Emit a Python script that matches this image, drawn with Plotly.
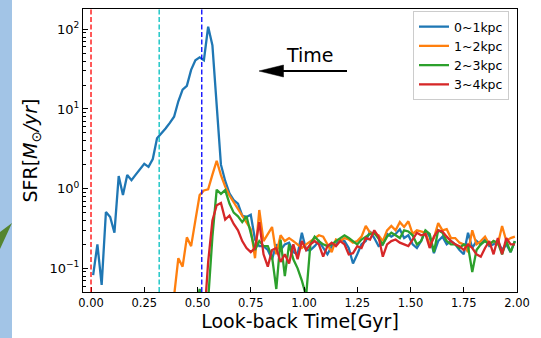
import plotly.graph_objects as go

# ---------------- data ----------------
time_gyr = [round(0.01 + 0.02 * i, 2) for i in range(100)]

sfr_0_1kpc = [
    0.082, 0.20, 0.062, 0.51, 0.44, 0.28, 1.44, 0.83, 1.48, 1.28,
    1.5, 1.75, 2.05, 1.88, 2.35, 4.3, 4.9, 5.7, 6.7, 8.0,
    12.5, 17.5, 19.5, 31, 41, 44.5, 41, 108, 63, 10,
    2.0, 1.25, 0.87, 0.72, 0.65, 0.46, 0.44, 0.47, 0.23, 0.19,
    0.19, 0.17, 0.13, 0.2, 0.17, 0.2,
    0.21, 0.16, 0.15, 0.28, 0.17, 0.17, 0.19, 0.22, 0.18, 0.15,
    0.19, 0.2, 0.23, 0.22, 0.18, 0.115, 0.15, 0.2, 0.22, 0.29,
    0.24, 0.19, 0.2, 0.27, 0.25, 0.27, 0.31, 0.24, 0.26, 0.2,
    0.18, 0.22, 0.3, 0.25, 0.155, 0.22, 0.25, 0.2, 0.22, 0.2,
    0.17, 0.15, 0.28, 0.18, 0.22, 0.2, 0.23, 0.19, 0.2, 0.22,
    0.17, 0.2, 0.16, 0.22,
]

sfr_1_2kpc = [None] * 18 + [
    0.02, 0.045, 0.134, 0.105, 0.245, 0.19, 0.40, 0.83, 0.95, 0.98,
    1.5, 2.24, 1.48, 1.06, 0.82, 0.68, 0.55, 0.45, 0.38, 0.31,
    0.134, 0.54, 0.22, 0.27, 0.33, 0.15,
    0.26, 0.22, 0.24, 0.22, 0.2, 0.18, 0.2, 0.22, 0.24, 0.26,
    0.25, 0.2, 0.16, 0.23, 0.22, 0.24, 0.23, 0.21, 0.22, 0.25,
    0.34, 0.28, 0.27, 0.26, 0.22, 0.3, 0.34, 0.3, 0.38, 0.33,
    0.39, 0.27, 0.3, 0.29, 0.28, 0.2, 0.24, 0.37, 0.3, 0.31,
    0.24, 0.24, 0.21, 0.2, 0.16, 0.3, 0.2, 0.22, 0.25, 0.2,
    0.22, 0.2, 0.34, 0.22, 0.24, 0.25,
]

sfr_2_3kpc = [None] * 24 + [
    0.03, 0.055, 0.03, 0.04, 0.25, 0.97, 0.86, 0.96, 0.65, 0.5,
    0.45, 0.38, 0.45, 0.27, 0.17, 0.22, 0.19, 0.19, 0.14, 0.055,
    0.23, 0.08,
    0.2, 0.13, 0.1, 0.07, 0.045, 0.2, 0.25, 0.22, 0.2, 0.19,
    0.2, 0.22, 0.24, 0.26, 0.24, 0.22, 0.2, 0.23, 0.25, 0.27,
    0.28, 0.24, 0.2, 0.25, 0.28, 0.26, 0.24, 0.3, 0.29, 0.26,
    0.2, 0.22, 0.3, 0.27, 0.16, 0.3, 0.28, 0.22, 0.2, 0.2,
    0.18, 0.2, 0.19, 0.09, 0.17, 0.2, 0.22, 0.2, 0.22, 0.21,
    0.15, 0.22, 0.16, 0.22,
]

sfr_3_4kpc = [None] * 26 + [
    0.02, 0.12, 0.4, 0.62, 0.66, 0.41, 0.46, 0.36, 0.3, 0.22,
    0.18, 0.16, 0.18, 0.38, 0.15, 0.105, 0.17, 0.18, 0.12, 0.15,
    0.115, 0.2, 0.13, 0.22, 0.17, 0.2, 0.22, 0.2, 0.14, 0.19,
    0.21, 0.19, 0.22, 0.2, 0.15, 0.155, 0.19, 0.18, 0.24, 0.23,
    0.3, 0.25, 0.14, 0.2, 0.22, 0.23, 0.21, 0.2, 0.19, 0.23,
    0.28, 0.26, 0.27, 0.18, 0.25, 0.3, 0.29, 0.25, 0.22, 0.2,
    0.19, 0.17, 0.2, 0.18, 0.15, 0.14, 0.18, 0.22, 0.15, 0.24,
    0.15, 0.24, 0.2, 0.2,
]

series_names = ["0~1kpc", "1~2kpc", "2~3kpc", "3~4kpc"]
series_colors = ["#1f77b4", "#ff7f0e", "#2ca02c", "#d62728"]
series_values = [sfr_0_1kpc, sfr_1_2kpc, sfr_2_3kpc, sfr_3_4kpc]

vline_times = [0.0, 0.32, 0.52]
vline_colors = ["#ff0000", "#00bfbf", "#0000ff"]

x_tick_vals = [0, 0.25, 0.5, 0.75, 1.0, 1.25, 1.5, 1.75, 2.0]
y_tick_vals = [0.1, 1, 10, 100]
y_tick_text = ["10<sup>\u22121</sup>", "10<sup>0</sup>", "10<sup>1</sup>", "10<sup>2</sup>"]
y_minor_vals = [m * 10 ** e for e in range(-2, 3) for m in range(2, 10)]

# ---------------- figure ----------------
W, H = 541, 338
L, R, T, B = 83, 24, 9, 46
PW, PH = W - L - R, H - T - B


def px2paper_x(px):
    return (px - L) / PW


def px2paper_y(py):
    return (H - B - py) / PH


fig = go.Figure()
for name, color, vals in zip(series_names, series_colors, series_values):
    fig.add_trace(go.Scatter(
        x=time_gyr[:len(vals)], y=vals, name=name, mode="lines",
        line=dict(color=color, width=2.3), connectgaps=False,
    ))

shapes = []
for t, c in zip(vline_times, vline_colors):
    shapes.append(dict(type="line", xref="x", yref="paper", x0=t, x1=t, y0=0, y1=1,
                       line=dict(color=c, width=1.3, dash="5px,2.5px")))

# "Time" arrow (drawn in paper coordinates)
shapes.append(dict(type="line", xref="paper", yref="paper",
                   x0=px2paper_x(347), x1=px2paper_x(282), y0=px2paper_y(71), y1=px2paper_y(71),
                   line=dict(color="black", width=2)))
shapes.append(dict(type="path", xref="paper", yref="paper",
                   path="M {a},{b} L {c},{d} L {e},{f} Z".format(
                       a=px2paper_x(283.5), b=px2paper_y(65),
                       c=px2paper_x(259), d=px2paper_y(71),
                       e=px2paper_x(283.5), f=px2paper_y(77)),
                   fillcolor="black", line=dict(color="black", width=0.5)))

# cropped neighbouring-figure fragments at the left edge
shapes.append(dict(type="rect", xref="paper", yref="paper",
                   x0=px2paper_x(0), x1=px2paper_x(12), y0=px2paper_y(338), y1=px2paper_y(0),
                   fillcolor="#a2c4e6", line=dict(width=0), layer="below"))
shapes.append(dict(type="path", xref="paper", yref="paper",
                   path="M {a},{b} L {c},{d} L {e},{f} Z".format(
                       a=px2paper_x(0), b=px2paper_y(232),
                       c=px2paper_x(12), d=px2paper_y(223),
                       e=px2paper_x(0), f=px2paper_y(249)),
                   fillcolor="#55852f", line=dict(width=0)))

fig.update_layout(
    width=W, height=H,
    margin=dict(l=L, r=R, t=T, b=B),
    paper_bgcolor="white", plot_bgcolor="white",
    font=dict(family="DejaVu Sans", color="black"),
    shapes=shapes,
    showlegend=True,
    legend=dict(x=px2paper_x(509), y=px2paper_y(11), xanchor="right", yanchor="top",
                bgcolor="rgba(255,255,255,0.85)", bordercolor="#cccccc", borderwidth=1,
                font=dict(size=12.5, family="DejaVu Sans"), tracegroupgap=0,
                itemwidth=30),
    annotations=[dict(text="Time", xref="paper", yref="paper",
                      x=px2paper_x(310), y=px2paper_y(54.5), showarrow=False,
                      font=dict(size=19, family="DejaVu Sans"), xanchor="center", yanchor="middle")],
)

fig.update_xaxes(
    range=[-0.0376, 2.0], tickvals=x_tick_vals, tickformat=".2f",
    ticks="inside", ticklen=5, tickcolor="black", tickwidth=1,
    showline=True, linecolor="black", linewidth=1, mirror=True,
    showgrid=False, zeroline=False,
    tickfont=dict(size=11.5, family="DejaVu Sans"),
    title=dict(text="Look-back Time[Gyr]", font=dict(size=19, family="DejaVu Sans"), standoff=4),
)
fig.update_yaxes(
    type="log", range=[-1.297, 2.255], tickmode="array", tickvals=y_tick_vals, ticktext=y_tick_text,
    ticks="inside", ticklen=5, tickcolor="black", tickwidth=1,
    minor=dict(tickmode="array", tickvals=y_minor_vals, ticks="inside", ticklen=2.5,
               tickcolor="black", tickwidth=0.8, showgrid=False),
    showline=True, linecolor="black", linewidth=1, mirror=True,
    showgrid=False, zeroline=False,
    tickfont=dict(size=13, family="DejaVu Sans"),
    title=dict(text="SFR[<i>M</i><sub>\u2299</sub><i>/yr</i>]", font=dict(size=19, family="DejaVu Sans"), standoff=6),
)

fig.write_html("out.html", config={"displayModeBar": False},
               post_script="document.body.style.margin='0';document.body.style.overflow='hidden';")
